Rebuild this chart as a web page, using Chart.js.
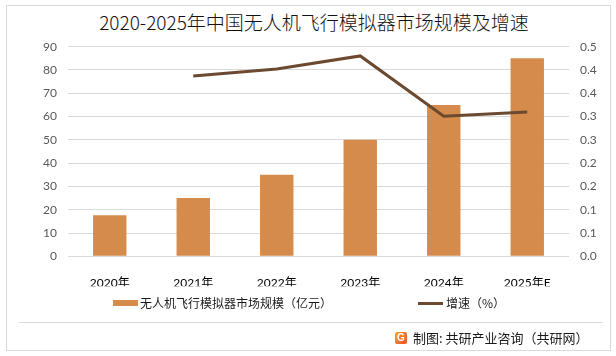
<!DOCTYPE html>
<html>
<head>
<meta charset="utf-8">
<script src="https://cdn.jsdelivr.net/npm/chart.js@4.4.0/dist/chart.umd.min.js"></script>
<style>
  html, body { margin:0; padding:0; background:#fff; }
  #wrap { position:relative; width:616px; height:356px; overflow:hidden; font-family:"Noto Sans CJK SC", sans-serif; }
  #frame { position:absolute; left:6px; top:5px; width:605px; height:346px; border:1px solid #d9d9d9; box-sizing:border-box; }
  #title { position:absolute; left:0; width:628px; top:8px; text-align:center; font-size:19px; font-weight:300; color:#111; line-height:28px; }
  #cv { position:absolute; left:0; top:0; }
  .lg { position:absolute; font-size:12px; color:#1a1a1a; line-height:16px; top:295px; white-space:nowrap; }
  .sw { position:absolute; }
  #footline { position:absolute; left:19px; top:322px; width:584px; height:1px; background:#d9d9d9; }
  #foot { position:absolute; left:413px; top:329px; font-size:13px; line-height:18px; color:#1a1a1a; white-space:nowrap; }
  #logo { position:absolute; left:395px; top:332px; width:12px; height:12px; border-radius:2px; background:linear-gradient(135deg,#f7a531,#e8502a); color:#fff; font:bold 10px "Liberation Sans", sans-serif; text-align:center; line-height:12px; }
</style>
</head>
<body>
<div id="wrap">
  <div id="frame"></div>
  <div id="title">2020-2025年中国无人机飞行模拟器市场规模及增速</div>
  <canvas id="cv" width="616" height="356"></canvas>
  <div class="sw" id="sw1" style="left:113px; top:300px; width:25px; height:6px;"></div>
  <div class="lg" id="lg1" style="left:140px;"></div>
  <div class="sw" id="sw2" style="left:418px; top:302px; width:25px; height:3px;"></div>
  <div class="lg" id="lg2" style="left:446px;"></div>
  <div id="footline"></div>
  <div id="logo">G</div>
  <div id="foot">制图: 共研产业咨询（共研网）</div>
</div>
<script>
const categories = ["2020年", "2021年", "2022年", "2023年", "2024年", "2025年E"];
const marketSize = [17.6, 25, 35, 50, 65, 85];
const growthRate = [null, 0.43, 0.447, 0.478, 0.334, 0.344];
const leftTickLabels = ["0", "10", "20", "30", "40", "50", "60", "70", "80", "90"];
const rightTickLabels = ["0.0", "0.1", "0.1", "0.2", "0.2", "0.3", "0.3", "0.4", "0.4", "0.5"];
const seriesNames = ["无人机飞行模拟器市场规模（亿元）", "增速（%）"];

const barColor = "#D48B4C";
const lineColor = "#6B4A30";

document.getElementById("sw1").style.background = barColor;
document.getElementById("sw2").style.background = lineColor;
document.getElementById("lg1").textContent = seriesNames[0];
document.getElementById("lg2").textContent = seriesNames[1];

const tickFont = { family: "Lato, 'Noto Sans CJK SC', sans-serif", size: 12 };

new Chart(document.getElementById("cv"), {
  data: {
    labels: categories,
    datasets: [
      {
        type: "line",
        label: seriesNames[1],
        data: growthRate,
        yAxisID: "y2",
        borderColor: lineColor,
        backgroundColor: lineColor,
        borderWidth: 3,
        pointRadius: 0,
        tension: 0,
        order: 0
      },
      {
        type: "bar",
        label: seriesNames[0],
        data: marketSize,
        yAxisID: "y",
        backgroundColor: barColor,
        barPercentage: 0.4,
        categoryPercentage: 1.0,
        order: 1
      }
    ]
  },
  options: {
    responsive: false,
    animation: false,
    layout: { padding: { top: 46.7, bottom: 69.7, left: 0, right: 0 } },
    plugins: { legend: { display: false }, title: { display: false }, tooltip: { enabled: false } },
    scales: {
      x: {
        grid: { display: false },
        border: { display: false },
        ticks: { color: "#000", font: tickFont, padding: 12, maxRotation: 0 },
        afterFit: (s) => { s.height = 30; }
      },
      y: {
        position: "left",
        min: 0, max: 90,
        ticks: { stepSize: 10, color: "#595959", font: tickFont, padding: 11,
          callback: (v, i) => leftTickLabels[i] },
        grid: { color: "#d9d9d9", lineWidth: 1, drawTicks: false },
        border: { display: false },
        afterFit: (s) => { s.width = 68; }
      },
      y2: {
        position: "right",
        min: 0, max: 0.5,
        afterBuildTicks: (s) => {
          s.ticks = rightTickLabels.map((t, i) => ({ value: i * 0.5 / (rightTickLabels.length - 1) }));
        },
        ticks: { color: "#595959", font: tickFont, padding: 11,
          callback: (v, i) => rightTickLabels[i] },
        grid: { display: false, drawTicks: false },
        border: { display: false },
        afterFit: (s) => { s.width = 47; }
      }
    }
  }
});
</script>
</body>
</html>
